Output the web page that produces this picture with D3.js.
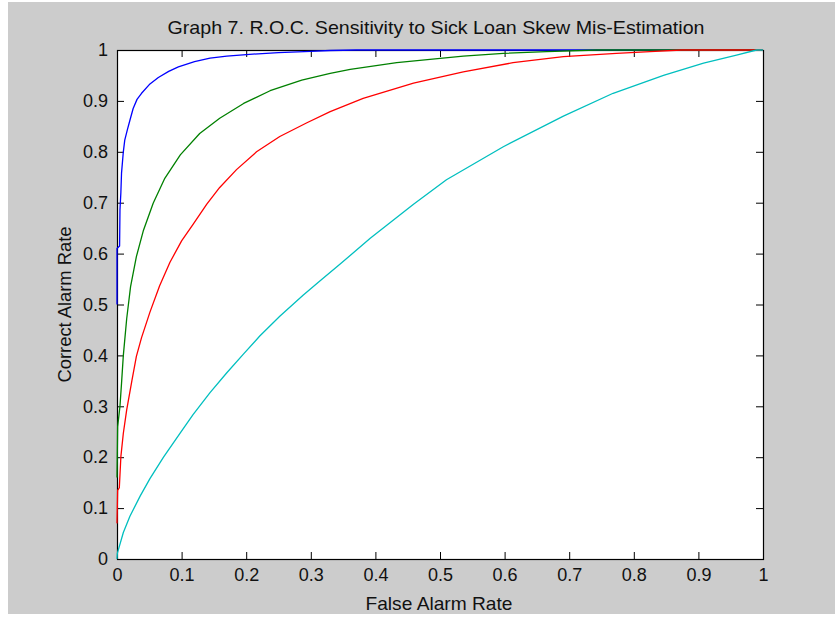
<!DOCTYPE html>
<html>
<head>
<meta charset="utf-8">
<script src="https://cdn.jsdelivr.net/npm/d3@7"></script>
<style>
  html, body { margin: 0; padding: 0; background: #ffffff; }
  svg { display: block; }
  text { font-family: "Liberation Sans", Arial, Helvetica, sans-serif; fill: #111; }
</style>
</head>
<body>
<svg id="chart" width="835" height="623"></svg>
<script>
// ---- Data ----
const title = "Graph 7. R.O.C. Sensitivity to Sick Loan Skew Mis-Estimation";
const xLabel = "False Alarm Rate";
const yLabel = "Correct Alarm Rate";
const xTicks = [0, 0.1, 0.2, 0.3, 0.4, 0.5, 0.6, 0.7, 0.8, 0.9, 1];
const yTicks = [0, 0.1, 0.2, 0.3, 0.4, 0.5, 0.6, 0.7, 0.8, 0.9, 1];
const xTickLabels = ["0", "0.1", "0.2", "0.3", "0.4", "0.5", "0.6", "0.7", "0.8", "0.9", "1"];
const yTickLabels = ["0", "0.1", "0.2", "0.3", "0.4", "0.5", "0.6", "0.7", "0.8", "0.9", "1"];

// each series: [false alarm rate, correct alarm rate]
const blueSeries = [
  [0, 0.50], [0, 0.61], [0.004, 0.615], [0.0046, 0.686], [0.006, 0.72], [0.007, 0.758],
  [0.0098, 0.80], [0.012, 0.823], [0.016, 0.843], [0.02, 0.862], [0.025, 0.885],
  [0.031, 0.903], [0.038, 0.915], [0.05, 0.932], [0.064, 0.946], [0.08, 0.958],
  [0.095, 0.967], [0.12, 0.977], [0.144, 0.984], [0.17, 0.988], [0.2, 0.991],
  [0.25, 0.995], [0.29, 0.997], [0.33, 0.999], [0.37, 1], [1, 1]
];
const greenSeries = [
  [0, 0.16], [0.001, 0.26], [0.0046, 0.30], [0.007, 0.345], [0.0098, 0.40], [0.015, 0.472],
  [0.021, 0.535], [0.030, 0.594], [0.041, 0.646], [0.056, 0.699], [0.074, 0.748],
  [0.098, 0.794], [0.128, 0.836], [0.159, 0.866], [0.196, 0.895], [0.237, 0.920],
  [0.286, 0.941], [0.33, 0.954], [0.361, 0.962], [0.433, 0.975], [0.536, 0.988],
  [0.598, 0.9935], [0.665, 0.997], [0.743, 1], [1, 1]
];
const redSeries = [
  [0, 0.07], [0.001, 0.135], [0.0036, 0.14], [0.006, 0.201], [0.0098, 0.247], [0.015, 0.293],
  [0.023, 0.350], [0.030, 0.398], [0.038, 0.435], [0.051, 0.485], [0.066, 0.537],
  [0.082, 0.583], [0.100, 0.625], [0.118, 0.658], [0.139, 0.697], [0.159, 0.730],
  [0.185, 0.765], [0.216, 0.800], [0.252, 0.830], [0.294, 0.857], [0.33, 0.879],
  [0.381, 0.905], [0.459, 0.935], [0.536, 0.957], [0.613, 0.975], [0.691, 0.987],
  [0.773, 0.9935], [0.825, 0.997], [0.874, 1], [1, 1]
];
const cyanSeries = [
  [0, 0], [0.0005, 0.011], [0.0098, 0.052], [0.02, 0.084], [0.036, 0.124], [0.051, 0.158],
  [0.072, 0.200], [0.098, 0.248], [0.118, 0.284], [0.144, 0.327], [0.170, 0.366],
  [0.196, 0.403], [0.221, 0.438], [0.252, 0.477], [0.288, 0.518], [0.314, 0.546],
  [0.345, 0.579], [0.392, 0.630], [0.459, 0.697], [0.510, 0.745], [0.598, 0.810],
  [0.691, 0.870], [0.768, 0.915], [0.846, 0.950], [0.908, 0.974], [0.959, 0.990],
  [0.99, 1], [1, 1]
];
const seriesList = [blueSeries, greenSeries, redSeries, cyanSeries];
const seriesColors = ["#0000ff", "#008000", "#ff0000", "#00bfbf"];

// ---- Layout ----
const svg = d3.select("#chart");
const plot = { left: 117, top: 50, right: 763, bottom: 559 };

// figure background
svg.append("rect").attr("x", 8).attr("y", 2).attr("width", 827).attr("height", 612)
  .attr("fill", "#cccccc");

const x = d3.scaleLinear().domain([0, 1]).range([plot.left, plot.right]);
const y = d3.scaleLinear().domain([0, 1]).range([plot.bottom, plot.top]);

// plot area
svg.append("rect")
  .attr("x", plot.left).attr("y", plot.top)
  .attr("width", plot.right - plot.left).attr("height", plot.bottom - plot.top)
  .attr("fill", "#ffffff");

const tickLen = 7;
function styleAxis(g, showText) {
  g.select(".domain").remove();
  g.selectAll(".tick line").attr("stroke", "#000").attr("stroke-width", 1);
  g.selectAll(".tick text").attr("font-size", 18).attr("fill", "#111")
    .attr("font-family", '"Liberation Sans", Arial, sans-serif');
  if (!showText) g.selectAll(".tick text").remove();
}

svg.append("g").attr("transform", `translate(0,${plot.bottom})`)
  .call(d3.axisBottom(x).tickValues(xTicks).tickFormat((d, i) => xTickLabels[i])
    .tickSize(-tickLen).tickSizeOuter(0).tickPadding(9))
  .call(g => styleAxis(g, true));
svg.append("g").attr("transform", `translate(0,${plot.top})`)
  .call(d3.axisTop(x).tickValues(xTicks).tickSize(-tickLen).tickSizeOuter(0))
  .call(g => styleAxis(g, false));
svg.append("g").attr("transform", `translate(${plot.left},0)`)
  .call(d3.axisLeft(y).tickValues(yTicks).tickFormat((d, i) => yTickLabels[i])
    .tickSize(-tickLen).tickSizeOuter(0).tickPadding(9))
  .call(g => styleAxis(g, true));
svg.append("g").attr("transform", `translate(${plot.right},0)`)
  .call(d3.axisRight(y).tickValues(yTicks).tickSize(-tickLen).tickSizeOuter(0))
  .call(g => styleAxis(g, false));

// box
svg.append("rect")
  .attr("x", plot.left + 0.5).attr("y", plot.top + 0.5)
  .attr("width", plot.right - plot.left).attr("height", plot.bottom - plot.top)
  .attr("fill", "none").attr("stroke", "#000").attr("stroke-width", 1.2);

// curves
const line = d3.line().x(d => x(d[0])).y(d => y(d[1]));
seriesList.forEach((s, i) => {
  svg.append("path").datum(s)
    .attr("d", line)
    .attr("fill", "none")
    .attr("stroke", seriesColors[i])
    .attr("stroke-width", 1.3)
    .attr("stroke-linejoin", "round");
});

// title & labels
svg.append("text").attr("x", 436).attr("y", 34)
  .attr("text-anchor", "middle").attr("font-size", 19)
  .attr("textLength", 537).attr("lengthAdjust", "spacingAndGlyphs").text(title);
svg.append("text").attr("x", 439).attr("y", 610)
  .attr("text-anchor", "middle").attr("font-size", 19)
  .attr("textLength", 147).attr("lengthAdjust", "spacingAndGlyphs").text(xLabel);
svg.append("text")
  .attr("transform", `translate(71,${(plot.top + plot.bottom) / 2}) rotate(-90)`)
  .attr("text-anchor", "middle").attr("font-size", 19)
  .attr("textLength", 156).attr("lengthAdjust", "spacingAndGlyphs").text(yLabel);
</script>
</body>
</html>
